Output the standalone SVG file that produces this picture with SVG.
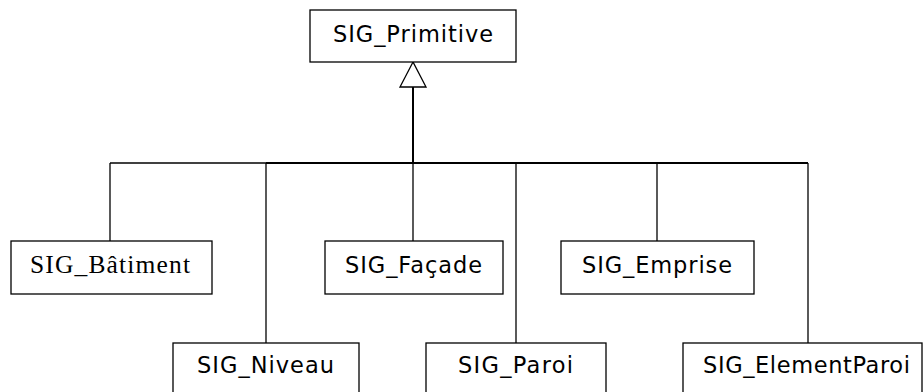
<svg xmlns="http://www.w3.org/2000/svg" width="923" height="392" viewBox="0 0 923 392">
<style>
.box{fill:#fff;stroke:#000;stroke-width:1.3}
.t{font-family:"DejaVu Sans",Verdana,sans-serif;font-size:22.5px;fill:#000}
.ts{font-family:"Liberation Serif","Times New Roman",serif;font-size:25.5px;fill:#000}
.c{stroke:#000;stroke-width:1.3;fill:none}
.ck{stroke:#000;stroke-width:2;fill:none}
</style>
<g id="connectors">
<line class="ck" x1="413" y1="87" x2="413" y2="163"/>
<line class="c" x1="110" y1="163" x2="266" y2="163"/>
<line class="ck" x1="266" y1="163" x2="808" y2="163"/>
<line class="c" x1="110" y1="163" x2="110" y2="241"/>
<line class="c" x1="266" y1="163" x2="266" y2="343"/>
<line class="c" x1="413" y1="163" x2="413" y2="241"/>
<line class="c" x1="516" y1="163" x2="516" y2="343"/>
<line class="c" x1="657" y1="163" x2="657" y2="241"/>
<line class="c" x1="808" y1="163" x2="808" y2="343"/>
<polygon points="413,62 400,87 426,87" fill="#fff" stroke="#000" stroke-width="1.3"/>
</g>
<g id="SIG_Primitive">
<rect class="box" x="310" y="10" width="206" height="52"/>
<text class="t" x="333" y="42" textLength="160" lengthAdjust="spacing">SIG_Primitive</text>
</g>
<g id="SIG_Batiment">
<rect class="box" x="11" y="241" width="201" height="53"/>
<text class="ts" x="30" y="273" textLength="160" lengthAdjust="spacing">SIG_Bâtiment</text>
</g>
<g id="SIG_Facade">
<rect class="box" x="325" y="241" width="178" height="53"/>
<text class="t" x="345" y="273" textLength="137" lengthAdjust="spacing">SIG_Façade</text>
</g>
<g id="SIG_Emprise">
<rect class="box" x="561" y="241" width="193" height="53"/>
<text class="t" x="582" y="273" textLength="150" lengthAdjust="spacing">SIG_Emprise</text>
</g>
<g id="SIG_Niveau">
<rect class="box" x="173" y="343" width="186" height="60"/>
<text class="t" x="197" y="373" textLength="137" lengthAdjust="spacing">SIG_Niveau</text>
</g>
<g id="SIG_Paroi">
<rect class="box" x="426" y="343" width="180" height="60"/>
<text class="t" x="458" y="373" textLength="115" lengthAdjust="spacing">SIG_Paroi</text>
</g>
<g id="SIG_ElementParoi">
<rect class="box" x="683" y="343" width="239" height="60"/>
<text class="t" x="703" y="373" textLength="207" lengthAdjust="spacing">SIG_ElementParoi</text>
</g>
</svg>
